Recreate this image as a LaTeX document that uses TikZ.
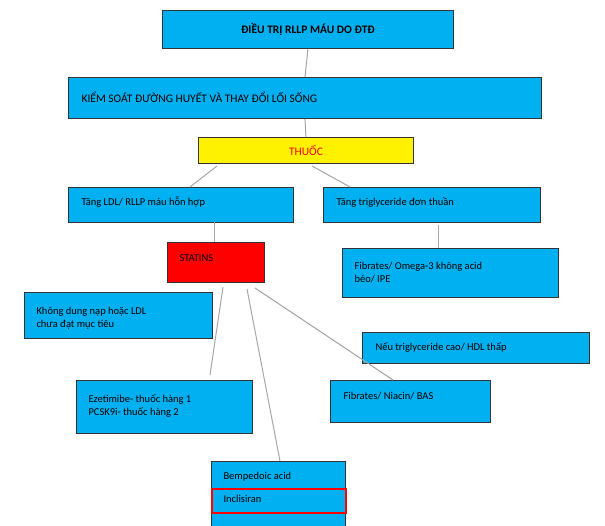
\documentclass[tikz,border=0pt]{standalone}
\usepackage{fontspec}
\setmainfont{Carlito}
\begin{document}
\begin{tikzpicture}[x=1pt,y=-1pt,
 box/.style={draw=black!80,line width=0.9pt,fill=cyan!60!blue!0,fill={rgb,255:red,0;green,176;blue,240},inner sep=0pt},
 lbl/.style={anchor=west,font=\fontsize{10.5}{13}\selectfont},
 con/.style={draw=black!35,line width=1pt}]
\useasboundingbox (0,0) rectangle (605,525);
% boxes
\node[box,minimum width=291,minimum height=38,anchor=north west,font=\bfseries\fontsize{11.5}{14}\selectfont] (t) at (162,10) {ĐIỀU TRỊ RLLP MÁU DO ĐTĐ};
\node[box,minimum width=473,minimum height=41,anchor=north west] (k) at (68,77) {};
\node[lbl,font=\fontsize{11.5}{14}\selectfont] at (78,97.5) {KIỂM SOÁT ĐƯỜNG HUYẾT VÀ THAY ĐỔI LỐI SỐNG};
\node[box,fill=yellow,minimum width=215,minimum height=26,anchor=north west,text=red,font=\fontsize{11.5}{14}\selectfont] (th) at (198,137) {THUỐC};
\node[box,minimum width=225,minimum height=35,anchor=north west] (ldl) at (68,187) {};
\node[lbl] at (78,202) {Tăng LDL/ RLLP máu hỗn hợp};
\node[box,minimum width=217,minimum height=35,anchor=north west] (tg) at (323,187) {};
\node[lbl] at (333,202) {Tăng triglyceride đơn thuần};
\node[box,fill=red,minimum width=97,minimum height=40,anchor=north west] (st) at (167,242) {};
\node[lbl] at (176,258) {STATINS};
\node[box,minimum width=216,minimum height=49,anchor=north west] (fo) at (342,248) {};
\node[lbl,align=left] at (351,273) {Fibrates/ Omega-3 không acid\\béo/ IPE};
\node[box,minimum width=188,minimum height=46,anchor=north west] (kd) at (24,292) {};
\begin{scope}
\clip (24,292) rectangle (212,334);
\node[lbl,align=left] at (33,318) {Không dung nạp hoặc LDL\\chưa đạt mục tiêu};
\end{scope}
\node[box,minimum width=227,minimum height=31,anchor=north west] (nt) at (362,332) {};
\node[lbl] at (372,347) {Nếu triglyceride cao/ HDL thấp};
\node[box,minimum width=176,minimum height=53,anchor=north west] (ez) at (76,380) {};
\node[lbl,align=left] at (85,406) {Ezetimibe- thuốc hàng 1\\PCSK9i- thuốc hàng 2};
\node[box,minimum width=160,minimum height=42,anchor=north west] (fn) at (330,380) {};
\node[lbl] at (340,396) {Fibrates/ Niacin/ BAS};
\node[box,minimum width=134,minimum height=70,anchor=north west] (bp) at (211,461) {};
\node[lbl] at (220,477) {Bempedoic acid};
\node[draw=red,line width=2.2pt,minimum width=134,minimum height=24,anchor=north west,inner sep=0pt] (inc) at (211,488) {};
\node[lbl] at (220,499) {Inclisiran};
% connectors
\coordinate (s1) at (223,287); \coordinate (e1) at (210,375);
\coordinate (s2) at (247,289); \coordinate (e2) at (280,461);
\coordinate (s3) at (255,288); \coordinate (e3) at (393,380);
\coordinate (a1) at (217,166); \coordinate (b1) at (190,187);
\coordinate (a2) at (312,166); \coordinate (b2) at (350,187);
\coordinate (l1) at (214,222); \coordinate (l2) at (214,242);
\coordinate (g1) at (438,225); \coordinate (g2) at (438,248);
\draw[con] (t.south) -- (k.north);
\draw[con] (k.south) -- (th.north);
\draw[con] (a1) -- (b1);
\draw[con] (a2) -- (b2);
\draw[con] (l1) -- (l2);
\draw[con] (g1) -- (g2);
\draw[con] (s1) -- (e1);
\draw[con] (s2) -- (e2);
\draw[con] (s3) -- (e3);
\end{tikzpicture}
\end{document}
